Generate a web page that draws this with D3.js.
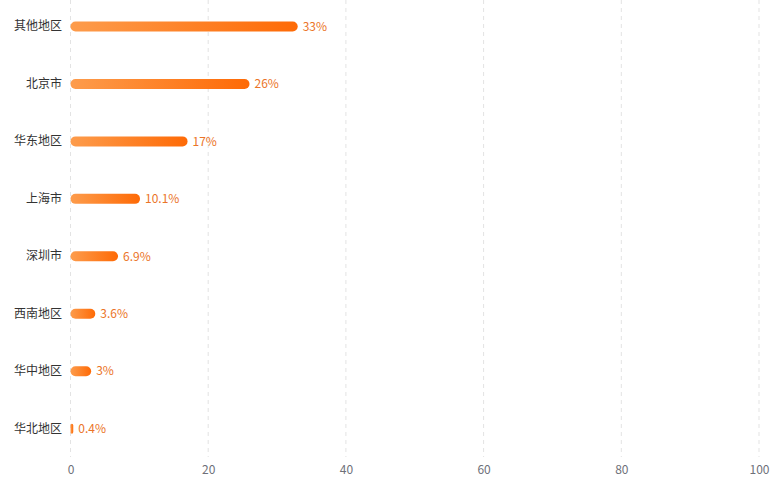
<!DOCTYPE html>
<html><head><meta charset="utf-8">
<script src="https://cdn.jsdelivr.net/npm/d3@7/dist/d3.min.js"></script>
<style>body{margin:0;background:#fff}svg{display:block}</style>
</head><body><svg id="c" width="780" height="496"></svg>
<script>
const categories = ["其他地区","北京市","华东地区","上海市","深圳市","西南地区","华中地区","华北地区"];
const values = [33, 26, 17, 10.1, 6.9, 3.6, 3, 0.4];
const labels = ["33%","26%","17%","10.1%","6.9%","3.6%","3%","0.4%"];
const xTicks = [0, 20, 40, 60, 80, 100];

const svg = d3.select("#c");
const font = "'Microsoft YaHei','Noto Sans CJK SC',sans-serif";
const x = d3.scaleLinear().domain([0, 100]).range([70.5, 759]);
const y = d3.scaleBand().domain(categories).range([-2.3, 457.5]);

const defs = svg.append("defs");
const g = defs.append("linearGradient").attr("id","grad").attr("x1","0%").attr("x2","100%").attr("y1","0%").attr("y2","0%");
g.append("stop").attr("offset","0%").attr("stop-color","#fd9c4c");
g.append("stop").attr("offset","100%").attr("stop-color","#fe6a06");

// grid
svg.append("g").selectAll("line").data(xTicks).join("line")
  .attr("x1", d => x(d)).attr("x2", d => x(d))
  .attr("y1", 0).attr("y2", 457)
  .attr("stroke", "#e3e3e3").attr("stroke-dasharray", "4,4").attr("stroke-width", 1);

// x axis labels
const xa = svg.append("g").attr("transform", "translate(0,457)")
  .call(d3.axisBottom(x).tickValues(xTicks).tickSize(0).tickPadding(8));
xa.select(".domain").remove();
xa.selectAll("text").attr("fill", "#6e7079").style("font-size", "12px").style("font-family", font);

// y labels
const ya = svg.append("g").attr("transform", "translate(70,0)")
  .call(d3.axisLeft(y).tickSize(0).tickPadding(8));
ya.select(".domain").remove();
ya.selectAll("text").attr("fill", "#333").style("font-size", "12px").style("font-family", font);

const bh = 10;
svg.append("g").selectAll("rect").data(values).join("rect")
  .attr("x", x(0))
  .attr("y", (d, i) => y(categories[i]) + y.bandwidth() / 2 - bh / 2)
  .attr("width", d => Math.max(x(d) - x(0), 2.5))
  .attr("height", bh)
  .attr("rx", d => Math.min(5, (x(d) - x(0)) / 2 + 0.3))
  .attr("fill", "url(#grad)");

svg.append("g").selectAll("text").data(values).join("text")
  .attr("x", d => Math.max(x(d), x(0) + 2.5) + 5)
  .attr("y", (d, i) => y(categories[i]) + y.bandwidth() / 2)
  .attr("dy", "0.35em")
  .attr("fill", "#eb7428")
  .style("font-size", "12px").style("font-family", font)
  .text((d, i) => labels[i]);
</script></body></html>
